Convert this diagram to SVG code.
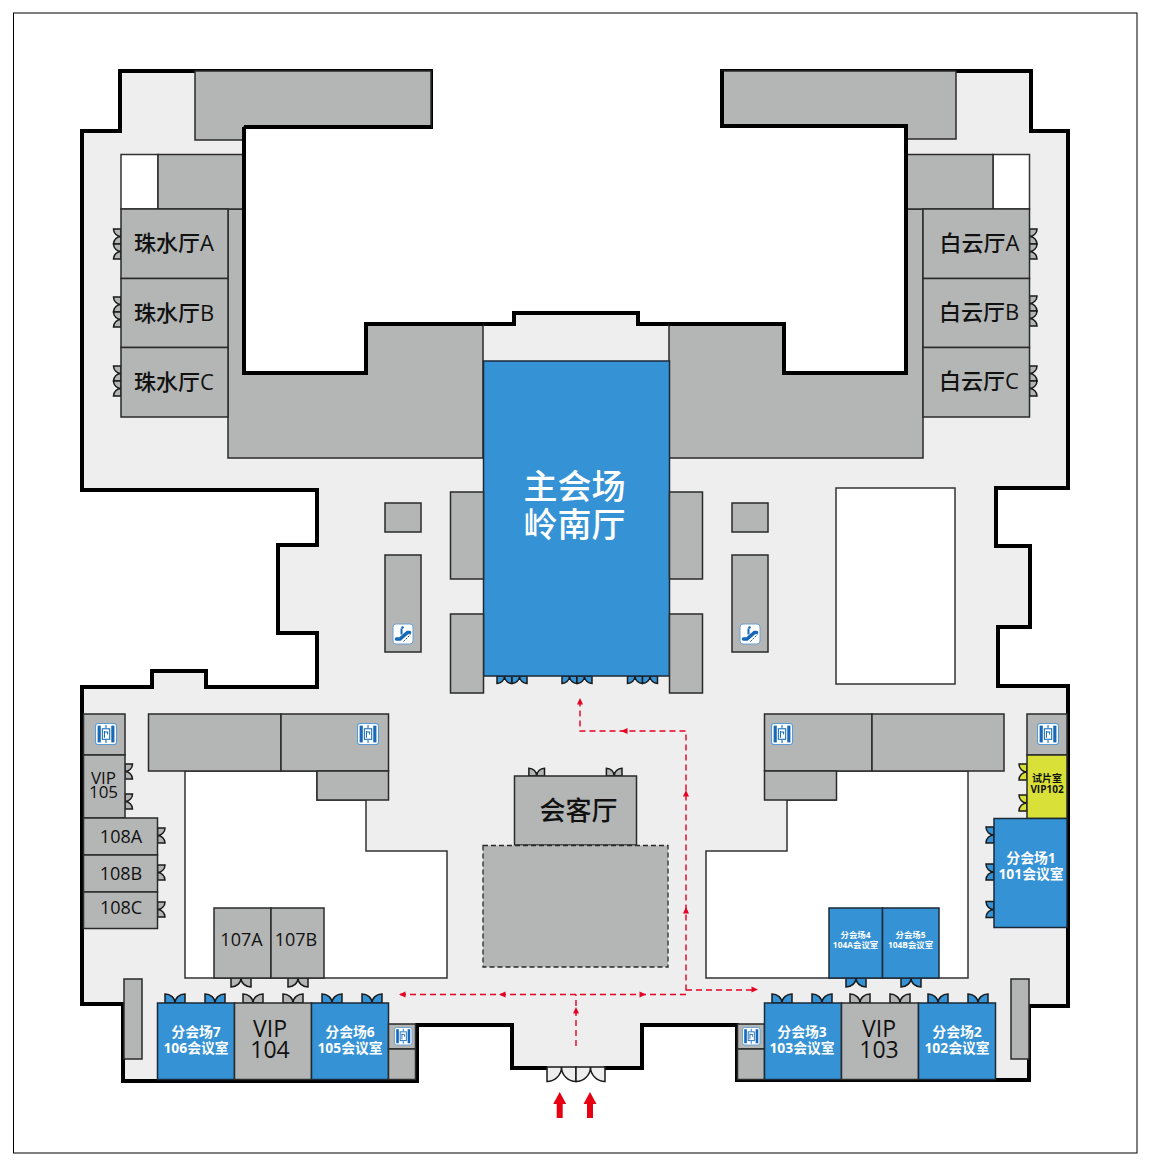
<svg xmlns="http://www.w3.org/2000/svg" xmlns:xlink="http://www.w3.org/1999/xlink" width="1154" height="1163" viewBox="0 0 1154 1163">
<style>
text{font-family:"Open Sans","Noto Sans CJK SC",sans-serif;text-anchor:middle;fill:#111;font-weight:500}
.w{fill:#fff}
.b{font-weight:700}
.room{fill:#b4b6b5;stroke:#2a2a2a;stroke-width:1.5}
.blue{fill:#3592d4;stroke:#1c2a38;stroke-width:1.5}
.yel{fill:#d9e037;stroke:#2a2a2a;stroke-width:1.5}
.hole{fill:#fff;stroke:#333;stroke-width:1.5}
.dg{fill:#b4b6b5}.db{fill:#3592d4}.dy{fill:#d9e037}.dl{fill:#eee}
.wall{fill:none;stroke:#000;stroke-width:4;stroke-linejoin:miter}
.route{fill:none;stroke:#e60023;stroke-width:1.4;stroke-dasharray:6 4}
.s22{font-size:22px}.s26{font-size:26px}.s34{font-size:34px}
.s18{font-size:18px}.s17{font-size:17px}.s23{font-size:23px}
.s14{font-size:13.8px}.s8{font-size:8.4px}.s9{font-size:10px}
</style>
<defs>
<path id="door" d="M0,0V10A10,10 0 0 0 10,0A10,10 0 0 0 20,10V0Z" stroke="#1a1a1a" stroke-width="1.5" vector-effect="non-scaling-stroke"/>
<polygon id="ah" points="0,0 -6.5,-3 -6.5,3" fill="#e60023"/>
<polygon id="up" points="0,0 6.5,12 3,12 3,26 -3,26 -3,12 -6.5,12" fill="#e60012"/>
<g id="lift">
<rect x="0.5" y="0.5" width="20" height="20" rx="2.5" fill="#fff" stroke="#5b9bd5"/>
<rect x="2.5" y="2.5" width="3" height="16" fill="#1569b8"/>
<rect x="15.5" y="2.5" width="3" height="16" fill="#1569b8"/>
<rect x="7" y="5.5" width="7" height="10" fill="#fff" stroke="#1569b8"/>
<path d="M10.5,2V5M10.5,16V19M9,7.5V14M9,8.5H12V11" fill="none" stroke="#1569b8" stroke-width="1"/>
</g>
<g id="esc">
<rect x="0.5" y="0.5" width="20" height="20" rx="3" fill="#fff" stroke="#6a9fd0"/>
<path d="M4,15.500H7.500L15,9H17" fill="none" stroke="#1569b8" stroke-width="3.600" stroke-linecap="round"/>
<path d="M9,5V11" fill="none" stroke="#1569b8" stroke-width="2"/>
<circle cx="10" cy="4" r="1.3" fill="#1569b8"/>
<path d="M11,18L18,11" fill="none" stroke="#1569b8" stroke-width="1" stroke-dasharray="2 1"/>
</g>
</defs>
<rect id="frame" x="13.5" y="13" width="1123.500" height="1140" fill="#fff" stroke="#000" stroke-width="1"/>
<g id="floor">
<path fill="#eee" d="M82,490V131H120V71H431V127H244V373H366V324H514V313H638V324H784V373H906V126H722V71H1031V131H1068V488H996V546H1030V627H998V686H1068V1006H1029V1080H737V1025H642V1068H512V1025H417V1081H123V1004H82V687H152V671H206V687H317V633H278V545H317V490Z"/>
<path class="wall" d="M547,1068H512V1025H417V1081H123V1004H82V687H152V671H206V687H317V633H278V545H317V490H82V131H120V71H431V127H244V373H366V324H514V313H638V324H784V373H906V126H722V71H1031V131H1068V488H996V546H1030V627H998V686H1068V1006H1029V1080H737V1025H642V1068H604"/>
</g>
<g id="wings">
<path class="room" d="M195,71H431V127H244V140H195Z"/>
<path class="room" d="M722,71H956V139H906V126H722Z"/>
<path class="room" d="M228,209H244V373H366V324H483V458H228Z"/>
<path class="room" d="M669,324H784V373H906V209H923V458H669Z"/>
<rect class="hole" x="121" y="154.500" width="37" height="54.500"/>
<rect class="room" x="158" y="154.500" width="86" height="54.500"/>
<rect class="hole" x="993" y="154.500" width="36.500" height="54.500"/>
<rect class="room" x="906" y="154.500" width="87" height="54.500"/>
<path class="wall" d="M244,127V373H366V324H483M669,324H784V373H906V126H722V71M431,127H244"/>
</g>
<g id="voids">
<rect class="hole" x="836" y="488" width="119" height="196"/>
<path class="hole" d="M185,771H317V800H366V851H447V978H185Z"/>
<path class="hole" d="M836,771H968V978H706V851H787V800H836Z"/>
</g>
<g id="zhushui-a"><use href="#door" class="dg" transform="translate(121,229) rotate(90) scale(.75)"/><use href="#door" class="dg" transform="translate(121,244) rotate(90) scale(.75)"/><rect class="room" x="121" y="209" width="107" height="69.500"/><text class="s22" x="174" y="251">珠水厅A</text></g>
<g id="zhushui-b"><use href="#door" class="dg" transform="translate(121,297) rotate(90) scale(.75)"/><use href="#door" class="dg" transform="translate(121,312) rotate(90) scale(.75)"/><rect class="room" x="121" y="278.500" width="107" height="69"/><text class="s22" x="174" y="321">珠水厅B</text></g>
<g id="zhushui-c"><use href="#door" class="dg" transform="translate(121,366) rotate(90) scale(.75)"/><use href="#door" class="dg" transform="translate(121,381) rotate(90) scale(.75)"/><rect class="room" x="121" y="347.500" width="107" height="69.500"/><text class="s22" x="174" y="390">珠水厅C</text></g>
<g id="baiyun-a"><use href="#door" class="dg" transform="translate(1029.500,244) rotate(-90) scale(.75)"/><use href="#door" class="dg" transform="translate(1029.500,259) rotate(-90) scale(.75)"/><rect class="room" x="923" y="209" width="106.500" height="69.500"/><text class="s22" x="979.500" y="251">白云厅A</text></g>
<g id="baiyun-b"><use href="#door" class="dg" transform="translate(1029.500,311) rotate(-90) scale(.75)"/><use href="#door" class="dg" transform="translate(1029.500,326) rotate(-90) scale(.75)"/><rect class="room" x="923" y="278.500" width="106.500" height="69"/><text class="s22" x="979" y="320">白云厅B</text></g>
<g id="baiyun-c"><use href="#door" class="dg" transform="translate(1029.500,381) rotate(-90) scale(.75)"/><use href="#door" class="dg" transform="translate(1029.500,396) rotate(-90) scale(.75)"/><rect class="room" x="923" y="347.500" width="106.500" height="69.500"/><text class="s22" x="979" y="389">白云厅C</text></g>
<g id="main-hall">
<use href="#door" class="db" transform="translate(497,676) scale(.75)"/><use href="#door" class="db" transform="translate(512,676) scale(.75)"/>
<use href="#door" class="db" transform="translate(562,676) scale(.75)"/><use href="#door" class="db" transform="translate(577,676) scale(.75)"/>
<use href="#door" class="db" transform="translate(627.500,676) scale(.75)"/><use href="#door" class="db" transform="translate(642.500,676) scale(.75)"/>
<rect class="blue" x="483.500" y="361" width="186" height="315"/>
<text class="s34 w" x="574.500" y="499">主会场</text>
<text class="s34 w" x="574.500" y="537">岭南厅</text>
</g>
<g id="hall-sides">
<rect class="room" x="450.500" y="492" width="33" height="87"/>
<rect class="room" x="450.500" y="614" width="33" height="79"/>
<rect class="room" x="669.500" y="492" width="33" height="87"/>
<rect class="room" x="669.500" y="614" width="33" height="79"/>
</g>
<g id="escalator-left">
<rect class="room" x="385" y="503" width="36" height="29"/>
<rect class="room" x="385" y="555" width="36" height="97"/>
<use href="#esc" x="392.500" y="623.500"/>
</g>
<g id="escalator-right">
<rect class="room" x="732" y="503" width="36" height="29"/>
<rect class="room" x="732" y="555" width="36" height="97"/>
<use href="#esc" x="739.500" y="623.500"/>
</g>
<g id="lobby-left">
<rect class="room" x="148.500" y="714" width="132.500" height="57"/>
<rect class="room" x="281" y="714" width="107.500" height="57"/>
<rect class="room" x="317" y="771" width="71.500" height="29"/>
<use href="#lift" transform="translate(357,723) scale(1.05)"/>
</g>
<g id="lobby-right">
<rect class="room" x="764.500" y="714" width="107.500" height="57"/>
<rect class="room" x="872" y="714" width="132" height="57"/>
<rect class="room" x="764.500" y="771" width="72" height="29"/>
<use href="#lift" transform="translate(771,723) scale(1.05)"/>
</g>
<g id="lift-west"><rect class="room" x="83.500" y="714" width="41.500" height="41"/><use href="#lift" transform="translate(95,723) scale(1.05)"/></g>
<g id="lift-east"><rect class="room" x="1027" y="714" width="40" height="41"/><use href="#lift" transform="translate(1037,723) scale(1.05)"/></g>
<g id="vip105"><use href="#door" class="dg" transform="translate(125,779) rotate(-90) scale(.75)"/><use href="#door" class="dg" transform="translate(125,809) rotate(-90) scale(.75)"/><rect class="room" x="83.500" y="755" width="41.500" height="63"/><text class="s17" x="103.500" y="784">VIP</text><text class="s17" x="103.500" y="798">105</text></g>
<g id="r108a"><use href="#door" class="dg" transform="translate(157.500,843) rotate(-90) scale(.75)"/><rect class="room" x="83.500" y="818" width="74" height="37"/><text class="s18" x="121" y="843">108A</text></g>
<g id="r108b"><use href="#door" class="dg" transform="translate(157.500,880) rotate(-90) scale(.75)"/><rect class="room" x="83.500" y="855" width="74" height="37"/><text class="s18" x="121" y="880">108B</text></g>
<g id="r108c"><use href="#door" class="dg" transform="translate(157.500,917) rotate(-90) scale(.75)"/><rect class="room" x="83.500" y="892" width="74" height="36.500"/><text class="s18" x="121" y="914">108C</text></g>
<g id="r107a"><use href="#door" class="dg" transform="translate(231,978) scale(1,.9)"/><rect class="room" x="214" y="908" width="57" height="70"/><text class="s18" x="241.500" y="946">107A</text></g>
<g id="r107b"><use href="#door" class="dg" transform="translate(288,978) scale(1,.9)"/><rect class="room" x="271" y="908" width="53" height="70"/><text class="s18" x="296" y="946">107B</text></g>
<g id="r104a"><use href="#door" class="db" transform="translate(846,978) scale(1,.9)"/><rect class="blue" x="829" y="908" width="53.500" height="70"/><text class="s8 b w" x="855.500" y="938">分会场4</text><text class="s8 b w" x="855.500" y="948">104A会议室</text></g>
<g id="r104b"><use href="#door" class="db" transform="translate(901,978) scale(1,.9)"/><rect class="blue" x="882.500" y="908" width="56.500" height="70"/><text class="s8 b w" x="910.500" y="938">分会场5</text><text class="s8 b w" x="910.500" y="948">104B会议室</text></g>
<g id="reception">
<use href="#door" class="dg" transform="translate(544.500,776) rotate(180) scale(.78)"/><use href="#door" class="dg" transform="translate(622,776) rotate(180) scale(.78)"/>
<rect class="room" x="514.500" y="776" width="122" height="69"/>
<text class="s26" x="578.500" y="820">会客厅</text>
</g>
<rect id="reception-annex" x="483" y="845.500" width="185" height="121.500" fill="#b4b6b5" stroke="#2a2a2a" stroke-width="1.3" stroke-dasharray="5 3"/>
<rect id="pillar-west" class="room" x="124" y="979" width="18" height="80"/>
<rect id="pillar-east" class="room" x="1011" y="979" width="18" height="80"/>
<g id="r106"><use href="#door" class="db" transform="translate(185,1003) rotate(180) scale(1,.9)"/><use href="#door" class="db" transform="translate(225,1003) rotate(180) scale(1,.9)"/><rect class="blue" x="157.500" y="1003" width="77" height="76.500"/><text class="s14 b w" x="196" y="1037">分会场7</text><text class="s14 b w" x="196" y="1053">106会议室</text></g>
<g id="vip104"><use href="#door" class="dg" transform="translate(263,1003) rotate(180) scale(1,.9)"/><use href="#door" class="dg" transform="translate(303,1003) rotate(180) scale(1,.9)"/><rect class="room" x="234.500" y="1003" width="77" height="76.500"/><text class="s23" x="270" y="1037">VIP</text><text class="s23" x="270" y="1058">104</text></g>
<g id="r105"><use href="#door" class="db" transform="translate(342,1003) rotate(180) scale(1,.9)"/><use href="#door" class="db" transform="translate(382,1003) rotate(180) scale(1,.9)"/><rect class="blue" x="311.500" y="1003" width="77" height="76.500"/><text class="s14 b w" x="350" y="1037">分会场6</text><text class="s14 b w" x="350" y="1053">105会议室</text></g>
<g id="lift-south-west"><rect class="room" x="388.500" y="1024" width="27" height="25"/><rect class="room" x="388.500" y="1049" width="27" height="30.500"/><use href="#lift" transform="translate(394,1027) scale(.88)"/></g>
<g id="lift-south-east"><rect class="room" x="737.500" y="1024" width="27" height="25"/><rect class="room" x="737.500" y="1049" width="27" height="30.500"/><use href="#lift" transform="translate(742,1027) scale(.88)"/></g>
<g id="r103"><use href="#door" class="db" transform="translate(792,1003) rotate(180) scale(1,.9)"/><use href="#door" class="db" transform="translate(832,1003) rotate(180) scale(1,.9)"/><rect class="blue" x="764.500" y="1003" width="77" height="76.500"/><text class="s14 b w" x="802" y="1037">分会场3</text><text class="s14 b w" x="802" y="1053">103会议室</text></g>
<g id="vip103"><use href="#door" class="dg" transform="translate(870,1003) rotate(180) scale(1,.9)"/><use href="#door" class="dg" transform="translate(910,1003) rotate(180) scale(1,.9)"/><rect class="room" x="841.500" y="1003" width="77" height="76.500"/><text class="s23" x="879" y="1037">VIP</text><text class="s23" x="879" y="1058">103</text></g>
<g id="r102"><use href="#door" class="db" transform="translate(948,1003) rotate(180) scale(1,.9)"/><use href="#door" class="db" transform="translate(988,1003) rotate(180) scale(1,.9)"/><rect class="blue" x="918.500" y="1003" width="77" height="76.500"/><text class="s14 b w" x="957" y="1037">分会场2</text><text class="s14 b w" x="957" y="1053">102会议室</text></g>
<g id="vip102"><use href="#door" class="dy" transform="translate(1027,764) rotate(90) scale(.8)"/><use href="#door" class="dy" transform="translate(1027,795) rotate(90) scale(.8)"/><rect class="yel" x="1027" y="755" width="40" height="63.500"/><text class="s9 b" x="1047" y="782">试片室</text><text class="s9 b" x="1047" y="793">VIP102</text></g>
<g id="r101"><use href="#door" class="db" transform="translate(994,827) rotate(90) scale(.8)"/><use href="#door" class="db" transform="translate(994,864) rotate(90) scale(.8)"/><use href="#door" class="db" transform="translate(994,901.500) rotate(90) scale(.8)"/><rect class="blue" x="994" y="818.500" width="73" height="109"/><text class="s14 b w" x="1031" y="863">分会场1</text><text class="s14 b w" x="1031" y="879">101会议室</text></g>
<g id="entrance">
<use href="#door" class="dl" transform="translate(547,1067) scale(1.45)"/><use href="#door" class="dl" transform="translate(576,1067) scale(1.45)"/>
</g>
<g id="connectors">
<path class="route" d="M576,1046V994.500"/>
<path class="route" d="M400,994.500H686V731H580V699"/>
<path class="route" d="M686,990H752"/>
<use href="#ah" transform="translate(576,1007) rotate(-90)"/>
<use href="#ah" transform="translate(399,994.500) rotate(180)"/>
<use href="#ah" transform="translate(499,994.500) rotate(180)"/>
<use href="#ah" transform="translate(646,994.500)"/>
<use href="#ah" transform="translate(686,907) rotate(-90)"/>
<use href="#ah" transform="translate(686,790) rotate(-90)"/>
<use href="#ah" transform="translate(621,731) rotate(180)"/>
<use href="#ah" transform="translate(580,698) rotate(-90)"/>
<use href="#ah" transform="translate(758,989.500)"/>
<use href="#up" x="559.700" y="1092"/>
<use href="#up" x="590" y="1092"/>
</g>
</svg>
